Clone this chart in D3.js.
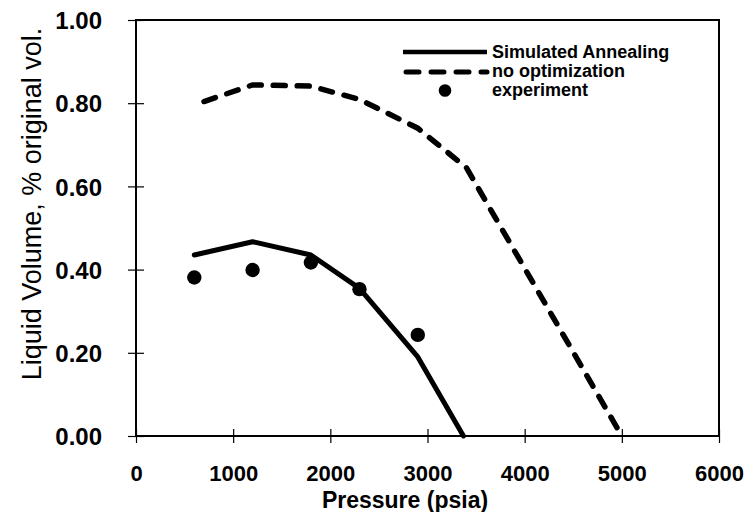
<!DOCTYPE html>
<html>
<head>
<meta charset="utf-8">
<script src="https://cdn.jsdelivr.net/npm/d3@7"></script>
<style>
  body { margin: 0; background: #fff; }
  svg { font-family: "Liberation Sans", Arial, sans-serif; }
</style>
</head>
<body>
<div class="svgContainer"></div>
<script>
// data
const pressureSA = [600, 1200, 1800, 2300, 2900, 3370];
const volumeSA = [0.435, 0.467, 0.435, 0.355, 0.19, 0.0];
const pressureNoOpt = [700, 1200, 1800, 2300, 2900, 3400, 5000];
const volumeNoOpt = [0.804, 0.844, 0.841, 0.809, 0.74, 0.645, 0.0];
const pressureExp = [600, 1200, 1800, 2300, 2900];
const volumeExp = [0.381, 0.399, 0.417, 0.353, 0.243];
const xTicks = [0, 1000, 2000, 3000, 4000, 5000, 6000];
const yTicks = [0, 0.2, 0.4, 0.6, 0.8, 1.0];
const legendLabels = ['Simulated Annealing', 'no optimization', 'experiment'];

const width = 747;
const height = 512;
const plotLeft = 136, plotRight = 719, plotTop = 20, plotBottom = 436;

const svg = d3.select('.svgContainer').append('svg')
  .attr('width', width)
  .attr('height', height);

const scaleX = d3.scaleLinear().domain([0, 6000]).range([plotLeft, plotRight]);
const scaleY = d3.scaleLinear().domain([0, 1]).range([plotBottom, plotTop]);

// frame
svg.append('rect')
  .attr('x', plotLeft).attr('y', plotTop)
  .attr('width', plotRight - plotLeft).attr('height', plotBottom - plotTop)
  .attr('fill', 'none').attr('stroke', '#000').attr('stroke-width', 2);

// x axis
const xAxis = svg.append('g')
  .attr('transform', 'translate(0,' + plotBottom + ')')
  .call(d3.axisBottom(scaleX).tickValues(xTicks).tickFormat(d3.format('d')).tickSize(7).tickPadding(0));
xAxis.select('.domain').remove();
xAxis.selectAll('.tick line').attr('y1', -7).attr('y2', 7).attr('stroke-width', 1.2);
xAxis.selectAll('.tick text')
  .attr('y', 45).attr('dy', null)
  .attr('font-size', 22).attr('font-weight', 'bold').attr('fill', '#000');

// y axis
const yAxis = svg.append('g')
  .attr('transform', 'translate(' + plotLeft + ',0)')
  .call(d3.axisLeft(scaleY).tickValues(yTicks).tickFormat(d3.format('.2f')).tickSize(8).tickPadding(0));
yAxis.select('.domain').remove();
yAxis.selectAll('.tick line').attr('x1', -8).attr('x2', 8).attr('stroke-width', 1.2);
yAxis.selectAll('.tick text')
  .attr('x', -34).attr('dy', '0.36em')
  .attr('font-size', 24).attr('font-weight', 'bold').attr('fill', '#000');

// axis titles
svg.append('text')
  .attr('x', 405).attr('y', 508)
  .attr('text-anchor', 'middle')
  .attr('font-size', 23).attr('font-weight', 'bold')
  .text('Pressure (psia)');

svg.append('text')
  .attr('transform', 'translate(41,204) rotate(-90)')
  .attr('text-anchor', 'middle')
  .attr('font-size', 27)
  .text('Liquid Volume, % original vol.');

// lines
const line = d3.line()
  .x(d => scaleX(d[0]))
  .y(d => scaleY(d[1]));

const plot = svg.append('g').attr('class', 'body');

plot.append('path')
  .datum(d3.zip(pressureNoOpt, volumeNoOpt))
  .attr('d', line)
  .attr('fill', 'none').attr('stroke', '#000')
  .attr('stroke-width', 5.5)
  .attr('stroke-linecap', 'round')
  .attr('stroke-dasharray', '12,12');

plot.append('path')
  .datum(d3.zip(pressureSA, volumeSA))
  .attr('d', line)
  .attr('fill', 'none').attr('stroke', '#000')
  .attr('stroke-width', 5)
  .attr('stroke-linejoin', 'round')
  .attr('stroke-linecap', 'round');

plot.selectAll('circle.exp')
  .data(d3.zip(pressureExp, volumeExp))
  .enter()
  .append('circle')
  .attr('class', 'exp')
  .attr('cx', d => scaleX(d[0]))
  .attr('cy', d => scaleY(d[1]))
  .attr('r', 7.2)
  .attr('fill', '#000');

// legend
const legend = svg.append('g').attr('transform', 'translate(403,0)');
legend.append('line')
  .attr('x1', 0).attr('x2', 84).attr('y1', 52).attr('y2', 52)
  .attr('stroke', '#000').attr('stroke-width', 4.5);
legend.append('line')
  .attr('x1', 3).attr('x2', 84).attr('y1', 72).attr('y2', 72)
  .attr('stroke', '#000').attr('stroke-width', 5)
  .attr('stroke-linecap', 'round')
  .attr('stroke-dasharray', '13,12');
legend.append('circle')
  .attr('cx', 42).attr('cy', 90.5).attr('r', 6.3).attr('fill', '#000');
legend.selectAll('text.leg')
  .data(legendLabels)
  .enter()
  .append('text')
  .attr('class', 'leg')
  .attr('x', 89)
  .attr('y', (d, i) => 57.5 + i * 19)
  .attr('font-size', 18).attr('font-weight', 'bold')
  .text(d => d);
</script>
</body>
</html>
